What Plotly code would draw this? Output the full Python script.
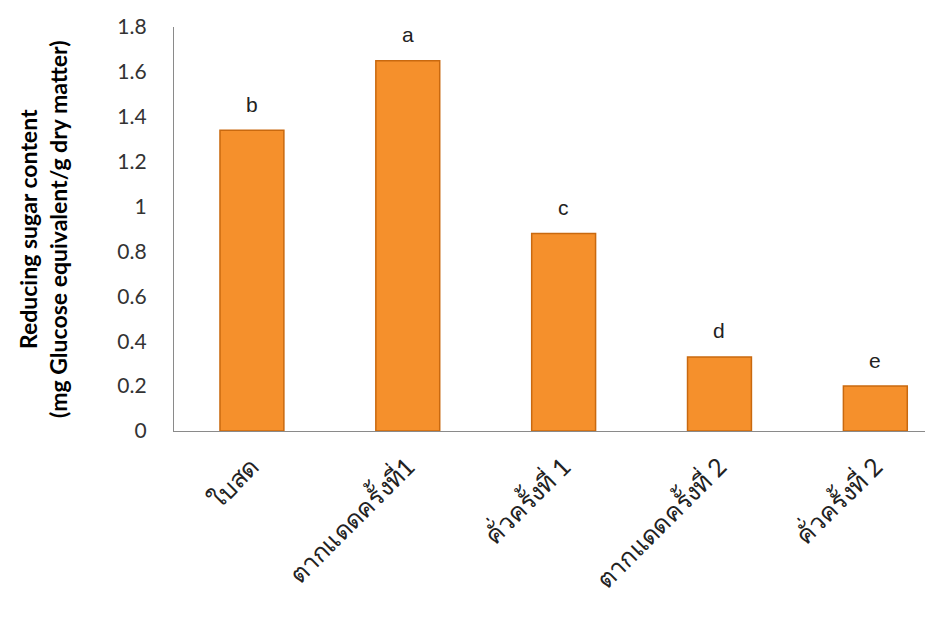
import plotly.graph_objects as go

categories = ["ใบสด", "ตากแดดครั้งที่1", "คั่วครั้งที่ 1", "ตากแดดครั้งที่ 2", "คั่วครั้งที่ 2"]
values = [1.34, 1.65, 0.88, 0.33, 0.20]
letters = ["b", "a", "c", "d", "e"]
y_ticks = [0, 0.2, 0.4, 0.6, 0.8, 1, 1.2, 1.4, 1.6, 1.8]
y_tick_labels = ["0", "0.2", "0.4", "0.6", "0.8", "1", "1.2", "1.4", "1.6", "1.8"]
y_title = "<b>Reducing sugar content<br>(mg Glucose equivalent/g dry matter)</b>"

FONT = "Lato, 'Noto Sans', sans-serif"

fig = go.Figure()
fig.add_trace(go.Bar(
    x=categories, y=values, width=0.41,
    marker=dict(color="#F5902C", line=dict(color="#C9690F", width=1.5)),
    hoverinfo="skip",
))

for c, v, l in zip(categories, values, letters):
    fig.add_annotation(x=c, y=v, text=l, showarrow=False, yshift=26,
                       font=dict(family="Liberation Sans, Arial, sans-serif", size=21, color="#222"))

fig.add_annotation(xref="paper", yref="paper", x=-0.1726, y=0.5, text=y_title,
                   textangle=-90, showarrow=False, xanchor="center", yanchor="middle",
                   font=dict(family=FONT, size=23, color="black"), align="center")

fig.update_layout(
    width=933, height=633,
    margin=dict(l=166, r=8, t=19, b=210, autoexpand=False),
    paper_bgcolor="white", plot_bgcolor="white",
    showlegend=False,
    bargap=0.59,
    font=dict(family=FONT, color="#333"),
)
fig.update_xaxes(
    range=[-0.5, 4.37], tickangle=-45, showline=True, linecolor="#8a8a8a", linewidth=1.2,
    showgrid=False, ticks="", tickfont=dict(size=25, color="#222", family=FONT),
    ticklabelstandoff=10, automargin=False,
)
fig.update_yaxes(
    range=[0, 1.8], tickvals=y_ticks, ticktext=y_tick_labels, showline=True,
    linecolor="#8a8a8a", linewidth=1.2, showgrid=False, ticks="", zeroline=False,
    tickfont=dict(size=21, color="#333", family=FONT), ticklabelstandoff=22,
    automargin=False,
)

fig.write_html("out.html")
